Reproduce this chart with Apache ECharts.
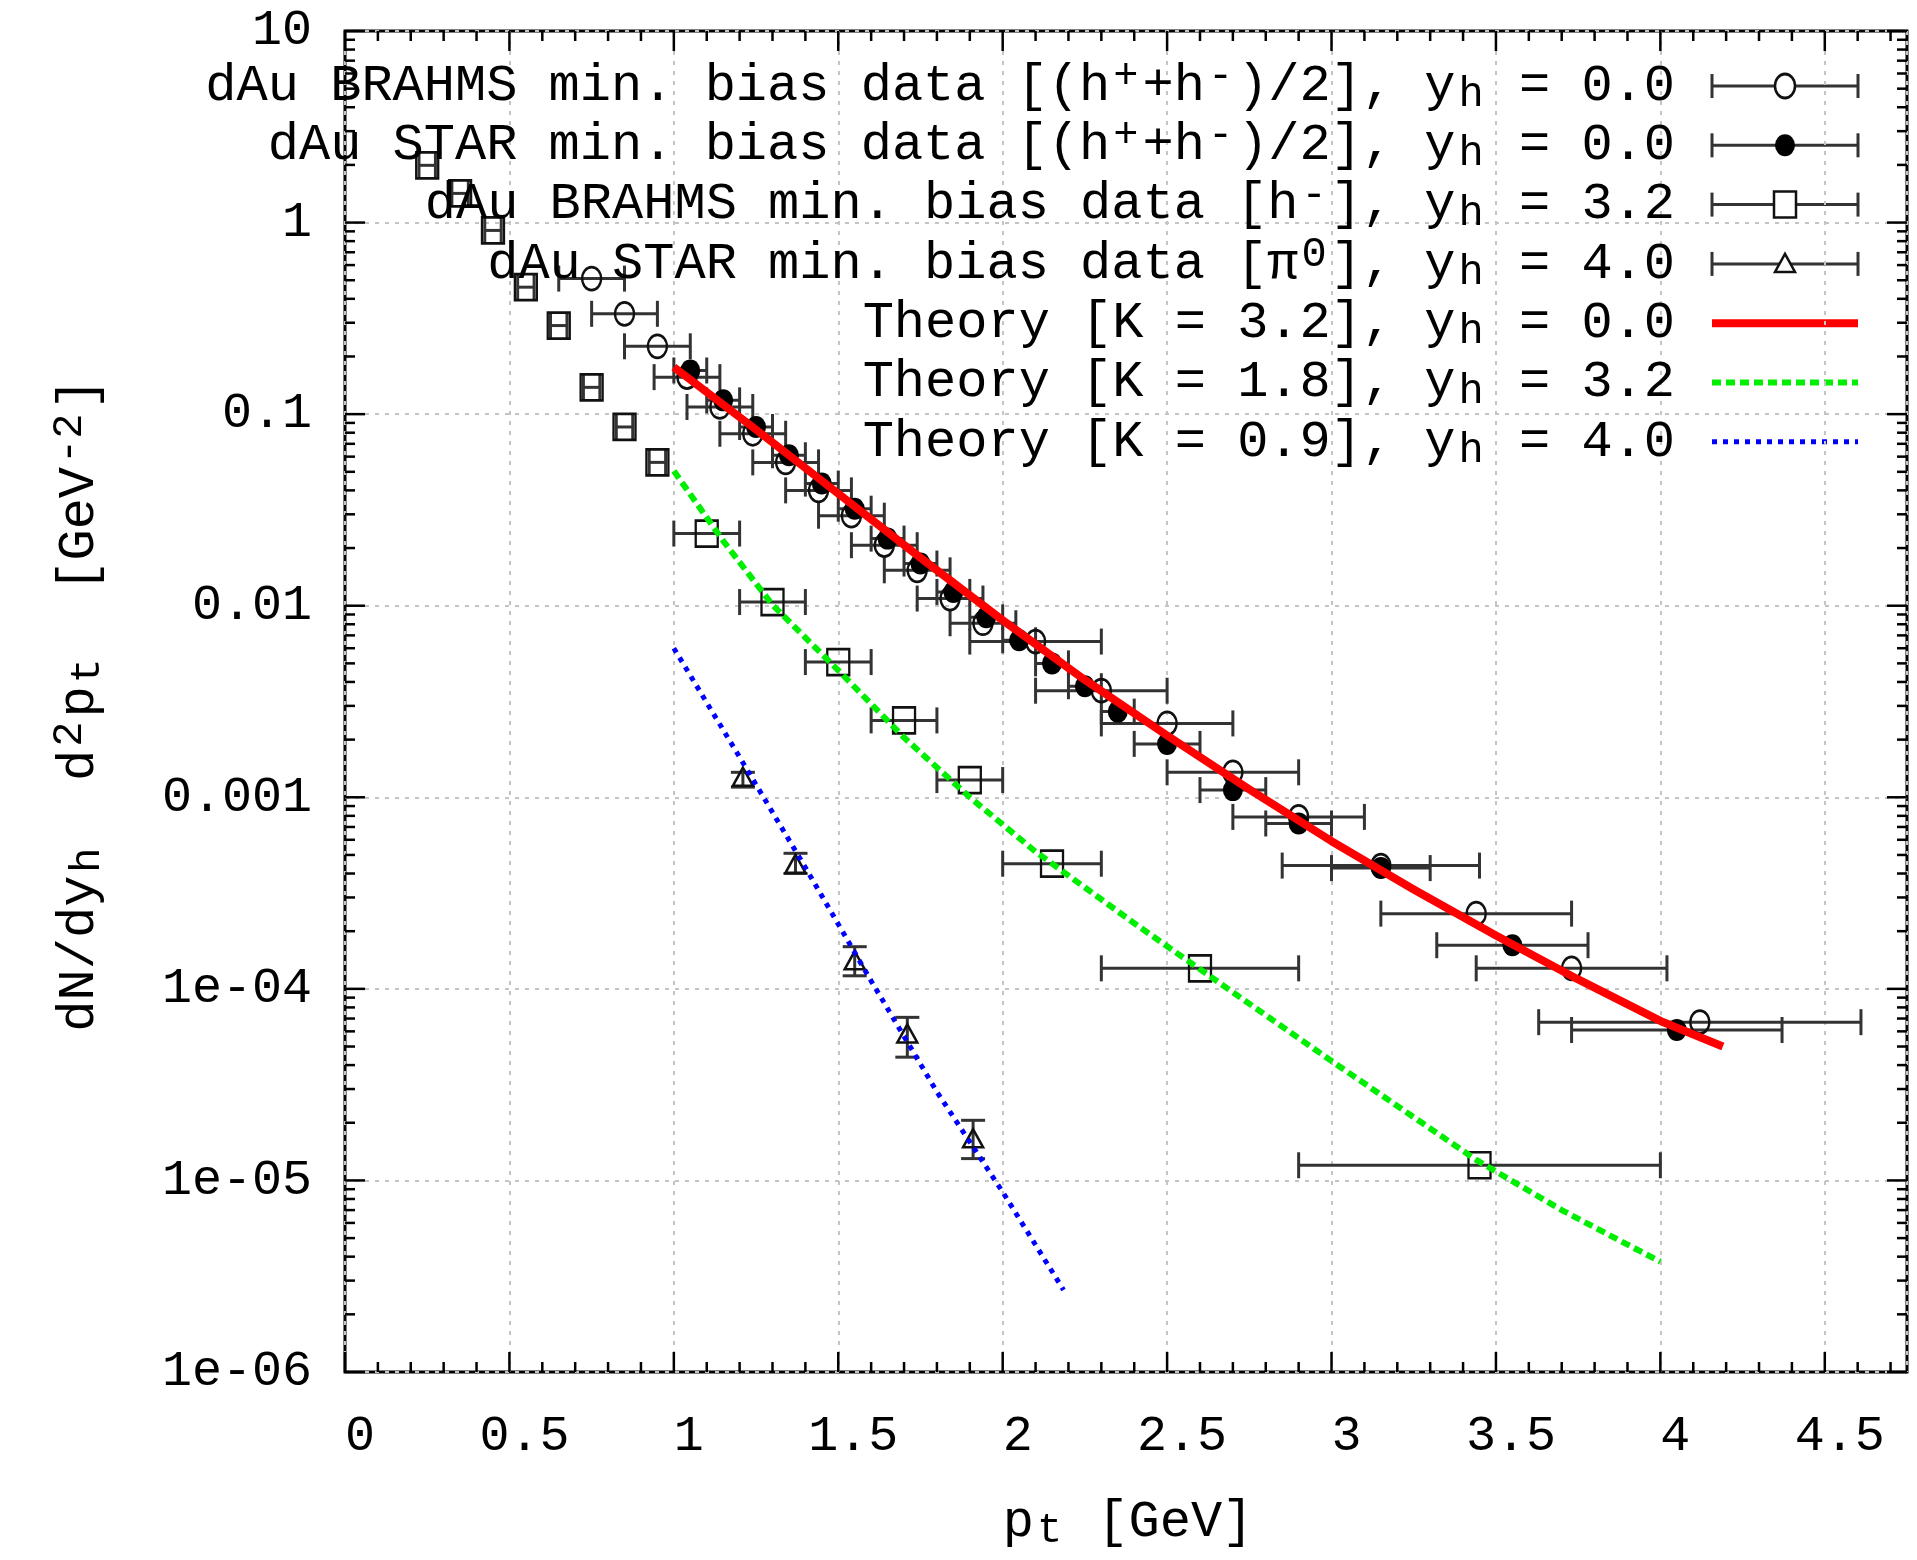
<!DOCTYPE html>
<html lang="en">
<head>
<meta charset="utf-8">
<title>dAu min. bias spectra</title>
<script src="https://cdn.jsdelivr.net/npm/echarts@6/dist/echarts.min.js"></script>
<style>
    html, body {
        margin: 0;
        padding: 0;
        background: #ffffff;
    }
    #chart {
        width: 1917px;
        height: 1560px;
    }
</style>
</head>
<body>
<div id="chart"></div>
<script>
    // ---- axis labels ----
    var xTickVals = [0, 0.5, 1, 1.5, 2, 2.5, 3, 3.5, 4, 4.5];
    var yTickText = ['1e-06', '1e-05', '1e-04', '0.001', '0.01', '0.1', '1', '10'];

    // ---- dAu BRAHMS, (h+ + h-)/2, y = 0 (open circles) ----
    var brahms0Pt = [0.75, 0.85, 0.95, 1.04, 1.14, 1.24, 1.34, 1.44, 1.54, 1.64, 1.74, 1.84, 1.94,
        2.1, 2.3, 2.5, 2.7, 2.9, 3.15, 3.44, 3.73, 4.12];
    var brahms0Val = [0.51, 0.334, 0.226, 0.156, 0.109, 0.079, 0.056, 0.040, 0.0295, 0.0207, 0.0153, 0.0109, 0.0081,
        6.5e-3, 3.6e-3, 2.43e-3, 1.35e-3, 7.9e-4, 4.4e-4, 2.47e-4, 1.28e-4, 6.7e-5];
    var brahms0Xerr = [0.1, 0.1, 0.1, 0.1, 0.1, 0.1, 0.1, 0.1, 0.1, 0.1, 0.1, 0.1, 0.1,
        0.2, 0.2, 0.2, 0.2, 0.2, 0.3, 0.29, 0.29, 0.49];

    // ---- dAu STAR, (h+ + h-)/2, y = 0 (filled circles) ----
    var star0Pt = [1.05, 1.15, 1.25, 1.35, 1.45, 1.55, 1.65, 1.75, 1.85, 1.95, 2.05, 2.15, 2.25, 2.35,
        2.5, 2.7, 2.9, 3.15, 3.55, 4.05];
    var star0Val = [0.169, 0.118, 0.0857, 0.061, 0.0434, 0.0321, 0.0224, 0.0166, 0.0118, 8.7e-3, 6.6e-3, 5.0e-3, 3.8e-3, 2.8e-3,
        1.9e-3, 1.09e-3, 7.3e-4, 4.27e-4, 1.69e-4, 6.1e-5];
    var star0Xerr = [0.05, 0.05, 0.05, 0.05, 0.05, 0.05, 0.05, 0.05, 0.05, 0.05, 0.05, 0.05, 0.05, 0.05,
        0.1, 0.1, 0.1, 0.15, 0.23, 0.32];

    // ---- dAu BRAHMS, h-, y = 3.2 (open squares) ----
    var brahms32Pt = [0.25, 0.35, 0.45, 0.55, 0.65, 0.75, 0.85, 0.95, 1.1, 1.3, 1.5, 1.7, 1.9, 2.15, 2.6, 3.45];
    var brahms32Val = [1.99, 1.42, 0.91, 0.46, 0.29, 0.138, 0.0857, 0.056, 0.0238, 0.01045, 5.08e-3, 2.52e-3, 1.23e-3,
        4.5e-4, 1.28e-4, 1.2e-5];
    var brahms32Xerr = [0.025, 0.025, 0.025, 0.025, 0.025, 0.025, 0.025, 0.025, 0.1, 0.1, 0.1, 0.1, 0.1, 0.15, 0.3, 0.55];

    // ---- dAu STAR, pi0, y = 4.0 (open triangles) ----
    var starPi0Pt = [1.21, 1.37, 1.55, 1.71, 1.91];
    var starPi0Val = [1.28e-3, 4.5e-4, 1.41e-4, 5.85e-5, 1.66e-5];
    var starPi0Lo = [1.13e-3, 4.0e-4, 1.17e-4, 4.4e-5, 1.3e-5];
    var starPi0Hi = [1.35e-3, 5.1e-4, 1.66e-4, 7.1e-5, 2.06e-5];

    // ---- theory curves ----
    var theory0Pt = [1.0, 1.25, 1.5, 1.75, 2.0, 2.25, 2.5, 2.75, 3.0, 3.25, 3.5, 3.75, 4.0, 4.19];
    var theory0Val = [0.176, 0.083, 0.0385, 0.0178, 8.4e-3, 4.1e-3, 2.1e-3, 1.1e-3, 5.9e-4, 3.3e-4, 1.9e-4, 1.12e-4, 6.8e-5, 5.0e-5];
    var theory32Pt = [1.0, 1.15, 1.3, 1.5, 1.7, 1.9, 2.1, 2.4, 2.7, 3.0, 3.44, 3.7, 4.0];
    var theory32Val = [0.0505, 0.0218, 0.0101, 4.6e-3, 2.05e-3, 1.0e-3, 5.2e-4, 2.2e-4, 9.6e-5, 4.2e-5, 1.28e-5, 7.0e-6, 3.76e-6];
    var theory40Pt = [1.0, 1.2, 1.4, 1.6, 1.8, 2.0, 2.185];
    var theory40Val = [6.0e-3, 1.62e-3, 4.3e-4, 1.1e-4, 2.9e-5, 8.7e-6, 2.68e-6];

    var FONT = '"Liberation Mono", "DejaVu Sans Mono", monospace';
    var BAR = '#333333';

    // axis tick marks (drawn inward on all four sides)
    var xMinor = [];
    for (var i = 1; i < 48; i++) {
        if (i % 5 !== 0) xMinor.push(i / 10);
    }
    var yMajor = [1e-6, 1e-5, 1e-4, 1e-3, 1e-2, 1e-1, 1, 10];
    var yMinor = [];
    for (var e = -6; e < 1; e++) {
        for (var m = 2; m < 10; m++) yMinor.push(m * Math.pow(10, e));
    }
    var tickData = [];
    xTickVals.forEach(function (v) { tickData.push([v, 1, 20, 0]); });
    xMinor.forEach(function (v) { tickData.push([v, 1, 10, 0]); });
    yMajor.forEach(function (v) { tickData.push([1, v, 20, 1]); });
    yMinor.forEach(function (v) { tickData.push([1, v, 10, 1]); });

    function zipErr(pt, val, xerr, lo, hi) {
        return pt.map(function (x, i) {
            var xe = xerr ? xerr[i] : 0;
            return [x, val[i], x - xe, x + xe, lo ? lo[i] : val[i], hi ? hi[i] : val[i]];
        });
    }

    function zip(pt, val) {
        return pt.map(function (x, i) { return [x, val[i]]; });
    }

    function seg(x1, y1, x2, y2, color, width) {
        return {
            type: 'line',
            shape: { x1: x1, y1: y1, x2: x2, y2: y2 },
            style: { stroke: color, lineWidth: width }
        };
    }

    function renderErr(params, api) {
        var x = api.value(0), y = api.value(1);
        var xl = api.value(2), xh = api.value(3), yl = api.value(4), yh = api.value(5);
        var ch = [];
        if (xh > xl) {
            var a = api.coord([xl, y]), b = api.coord([xh, y]);
            ch.push(seg(a[0], a[1], b[0], b[1], BAR, 3));
            ch.push(seg(a[0], a[1] - 13, a[0], a[1] + 13, BAR, 3));
            ch.push(seg(b[0], b[1] - 13, b[0], b[1] + 13, BAR, 3));
        }
        if (yh > yl) {
            var c = api.coord([x, yl]), d = api.coord([x, yh]);
            ch.push(seg(c[0], c[1], d[0], d[1], BAR, 3));
            ch.push(seg(c[0] - 12, c[1], c[0] + 12, c[1], BAR, 3));
            ch.push(seg(d[0] - 12, d[1], d[0] + 12, d[1], BAR, 3));
        }
        return { type: 'group', children: ch };
    }

    function renderTicks(params, api) {
        var cs = params.coordSys;
        var len = api.value(2);
        var p = api.coord([api.value(0), api.value(1)]);
        var ch;
        if (api.value(3) === 0) {
            ch = [seg(p[0], cs.y + cs.height, p[0], cs.y + cs.height - len, '#000', 2.5),
                seg(p[0], cs.y, p[0], cs.y + len, '#000', 2.5)];
        } else {
            ch = [seg(cs.x, p[1], cs.x + len, p[1], '#000', 2.5),
                seg(cs.x + cs.width, p[1], cs.x + cs.width - len, p[1], '#000', 2.5)];
        }
        return { type: 'group', children: ch };
    }

    function errSeries(name, data) {
        return {
            name: name + ' bars',
            type: 'custom',
            renderItem: renderErr,
            data: data,
            clip: true,
            silent: true,
            z: 2
        };
    }

    function markSeries(name, data, symbol, size, fill) {
        return {
            name: name,
            type: 'scatter',
            data: data,
            symbol: symbol,
            symbolSize: size,
            silent: true,
            itemStyle: { color: fill, borderColor: '#111', borderWidth: fill === '#000' ? 0 : 2.5, opacity: 1 },
            z: 3
        };
    }

    function theorySeries(name, data, color, width, dash) {
        return {
            name: name,
            type: 'line',
            data: data,
            showSymbol: false,
            smooth: false,
            silent: true,
            lineStyle: { color: color, width: width, type: dash, cap: 'butt', join: 'round' },
            z: 4
        };
    }

    var RICH = {
        sup: { fontFamily: FONT, fontSize: 42, lineHeight: 20, verticalAlign: 'top', fill: '#000', padding: [0, 4, 0, 3] },
        supHi: { fontFamily: FONT, fontSize: 42, lineHeight: 2, verticalAlign: 'top', fill: '#000', padding: [0, 4, 0, 3] },
        sub: { fontFamily: FONT, fontSize: 42, lineHeight: 12, verticalAlign: 'bottom', fill: '#000', padding: [0, 4, 0, 3] }
    };

    var legendRows = [
        'dAu BRAHMS min. bias data [(h{sup|+}+h{sup|-})/2], y{sub|h} = 0.0',
        'dAu STAR min. bias data [(h{sup|+}+h{sup|-})/2], y{sub|h} = 0.0',
        'dAu BRAHMS min. bias data [h{sup|-}], y{sub|h} = 3.2',
        'dAu STAR min. bias data [π{supHi|0}], y{sub|h} = 4.0',
        'Theory [K = 3.2], y{sub|h} = 0.0',
        'Theory [K = 1.8], y{sub|h} = 3.2',
        'Theory [K = 0.9], y{sub|h} = 4.0'
    ];

    var graphics = [];
    var sx1 = 1712, sx2 = 1858, smid = 1785;
    legendRows.forEach(function (txt, i) {
        var y = 86 + 59.3 * i;
        graphics.push({
            type: 'text', x: 1675, y: y, z: 10,
            style: {
                text: txt, align: 'right', verticalAlign: 'middle',
                fontFamily: FONT, fontSize: 52, lineHeight: 60, fill: '#000', rich: RICH
            }
        });
        if (i < 4) {
            graphics.push(seg(sx1, y, sx2, y, BAR, 3));
            graphics.push(seg(sx1, y - 12, sx1, y + 12, BAR, 3));
            graphics.push(seg(sx2, y - 12, sx2, y + 12, BAR, 3));
        }
        if (i === 0) {
            graphics.push({ type: 'circle', x: smid, y: y, scaleY: 1.2, shape: { cx: 0, cy: 0, r: 10 },
                style: { fill: '#fff', stroke: '#111', lineWidth: 2.5 } });
        } else if (i === 1) {
            graphics.push({ type: 'circle', x: smid, y: y, scaleY: 1.1, shape: { cx: 0, cy: 0, r: 10 },
                style: { fill: '#000' } });
        } else if (i === 2) {
            graphics.push({ type: 'rect', shape: { x: smid - 11, y: y - 13, width: 22, height: 26 },
                style: { fill: '#fff', stroke: '#111', lineWidth: 2.5 } });
        } else if (i === 3) {
            graphics.push({ type: 'polygon', shape: { points: [[smid, y - 10], [smid - 10, y + 8], [smid + 10, y + 8]] },
                style: { fill: '#fff', stroke: '#111', lineWidth: 2.5 } });
        } else if (i === 4) {
            graphics.push({ type: 'line', shape: { x1: sx1, y1: y, x2: sx2, y2: y },
                style: { stroke: '#ff0000', lineWidth: 8 } });
        } else if (i === 5) {
            graphics.push({ type: 'line', shape: { x1: sx1, y1: y, x2: sx2, y2: y },
                style: { stroke: '#00ee00', lineWidth: 6, lineDash: [9, 5] } });
        } else {
            graphics.push({ type: 'line', shape: { x1: sx1, y1: y, x2: sx2, y2: y },
                style: { stroke: '#0000ff', lineWidth: 5, lineDash: [5, 6] } });
        }
    });

    // axis titles
    graphics.push({
        type: 'text', x: 1128, y: 1522,
        style: {
            text: 'p{sub|t} [GeV]', align: 'center', verticalAlign: 'middle',
            fontFamily: FONT, fontSize: 52, lineHeight: 60, fill: '#000', rich: RICH
        }
    });
    graphics.push({
        type: 'text', x: 79, y: 705, rotation: Math.PI / 2,
        style: {
            text: 'dN/dy{sub|h}  d{sup|2}p{sub|t}  [GeV{sup|-2}]', align: 'center', verticalAlign: 'middle',
            fontFamily: FONT, fontSize: 52, lineHeight: 60, fill: '#000', rich: RICH
        }
    });

    var chart = echarts.init(document.getElementById('chart'), null, { renderer: 'canvas' });

    var option = {
        backgroundColor: '#ffffff',
        animation: false,
        grid: {
            left: 345,
            top: 31,
            right: 10,
            bottom: 188,
            show: true,
            borderColor: '#000',
            borderWidth: 3,
            outerBoundsMode: 'none'
        },
        xAxis: {
            type: 'value',
            min: 0,
            max: 4.75,
            interval: 0.5,
            axisLine: { show: false },
            axisTick: { show: false },
            axisLabel: {
                color: '#000',
                fontFamily: FONT,
                fontSize: 50,
                margin: 40,
                padding: [0, 0, 0, 30],
                showMaxLabel: false,
                formatter: function (v) {
                    return xTickVals.indexOf(v) >= 0 ? String(v) : '';
                }
            },
            splitLine: { show: true, lineStyle: { color: '#c4c4c4', width: 2, type: [4, 6] } }
        },
        yAxis: {
            type: 'log',
            logBase: 10,
            min: 1e-6,
            max: 10,
            axisLine: { show: false },
            axisTick: { show: false },
            axisLabel: {
                color: '#000',
                fontFamily: FONT,
                fontSize: 50,
                margin: 33,
                formatter: function (v) {
                    return yTickText[Math.round(Math.log10(v)) + 6];
                }
            },
            splitLine: { show: true, lineStyle: { color: '#c4c4c4', width: 2, type: [4, 6] } }
        },
        graphic: graphics,
        series: [
            errSeries('brahms0', zipErr(brahms0Pt, brahms0Val, brahms0Xerr)),
            errSeries('star0', zipErr(star0Pt, star0Val, star0Xerr)),
            errSeries('brahms32', zipErr(brahms32Pt, brahms32Val, brahms32Xerr)),
            errSeries('starPi0', zipErr(starPi0Pt, starPi0Val, null, starPi0Lo, starPi0Hi)),
            markSeries('dAu BRAHMS y=0', zip(brahms0Pt, brahms0Val), 'circle', [19, 23], 'transparent'),
            markSeries('dAu STAR y=0', zip(star0Pt, star0Val), 'circle', [20, 22], '#000'),
            markSeries('dAu BRAHMS y=3.2', zip(brahms32Pt, brahms32Val), 'rect', [22, 26], 'transparent'),
            markSeries('dAu STAR pi0 y=4.0', zip(starPi0Pt, starPi0Val), 'triangle', [20, 18], 'transparent'),
            theorySeries('Theory K=3.2', zip(theory0Pt, theory0Val), '#ff0000', 8, 'solid'),
            theorySeries('Theory K=1.8', zip(theory32Pt, theory32Val), '#00ee00', 6, [9, 5]),
            theorySeries('Theory K=0.9', zip(theory40Pt, theory40Val), '#0000ff', 5, [5, 6]),
            {
                name: 'ticks',
                type: 'custom',
                renderItem: renderTicks,
                data: tickData,
                clip: false,
                silent: true,
                z: 5
            }
        ]
    };

    chart.setOption(option);
</script>
</body>
</html>
